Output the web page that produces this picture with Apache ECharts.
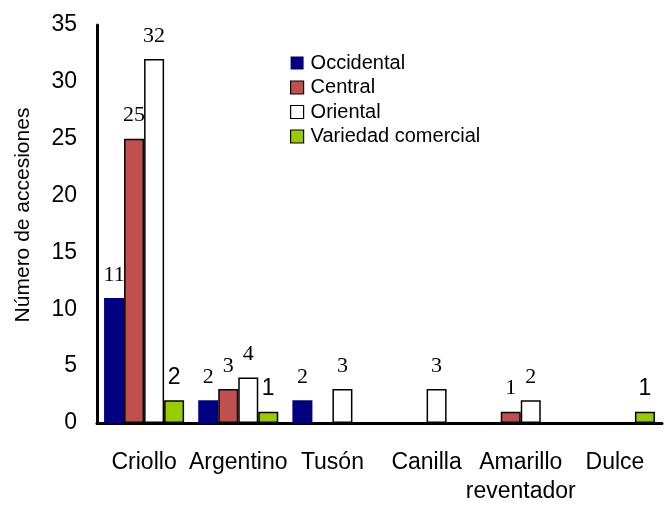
<!DOCTYPE html>
<html><head><meta charset="utf-8">
<script src="https://cdn.jsdelivr.net/npm/echarts@6/dist/echarts.min.js"></script>
<style>html,body{margin:0;padding:0;background:#fff}#c{width:665px;height:506px}</style>
</head><body><div id="c"></div>
<script>
var categories = ['Criollo', 'Argentino', 'Tusón', 'Canilla', 'Amarillo\nreventador', 'Dulce'];
var occidental = [11, 2, 2, 0, 0, 0];
var central = [25, 3, 0, 0, 1, 0];
var oriental = [32, 4, 3, 3, 2, 0];
var comercial = [2, 1, 0, 0, 0, 1];
var seriesNames = ['Occidental', 'Central', 'Oriental', 'Variedad comercial'];
var yTicks = [0, 5, 10, 15, 20, 25, 30, 35];

var colors = ['#000080', '#C0504D', '#FFFFFF', '#99CC00'];
var dataSets = [occidental, central, oriental, comercial];
var chart = echarts.init(document.getElementById('c'));
var series = dataSets.map(function (d, i) {
  var serif = i < 3;
  return {
    name: seriesNames[i], type: 'bar', data: d,
    barGap: '0%', barCategoryGap: '15%',
    itemStyle: { color: colors[i], borderColor: '#000', borderWidth: i === 0 ? 0 : 1.5 },
    label: {
      show: true, position: 'top', distance: serif ? 12 : 11,
      fontFamily: serif ? 'Liberation Serif' : 'Liberation Sans',
      fontSize: serif ? 22 : 23, color: '#000',
      formatter: function (p) { return p.value === 0 ? '' : String(p.value); }
    }
  };
});
chart.setOption({
  animation: false,
  backgroundColor: '#fff',
  grid: { left: 97, right: 3, top: 25, bottom: 77 },
  legend: {
    orient: 'vertical', left: 285, top: 48, itemWidth: 13, itemHeight: 13, itemGap: 4.5,
    icon: 'rect',
    textStyle: { fontFamily: 'Liberation Sans', fontSize: 20, color: '#000', padding: [0, 0, 0, 2] },
    data: seriesNames.map(function (n, i) {
      return { name: n, itemStyle: { color: colors[i], borderColor: '#000', borderWidth: i === 0 ? 0 : 1.2 } };
    })
  },
  xAxis: {
    type: 'category', data: categories,
    axisLine: { lineStyle: { color: '#000', width: 3 } },
    axisTick: { show: false },
    axisLabel: { color: '#000', fontFamily: 'Liberation Sans', fontSize: 23, margin: 25, lineHeight: 29, interval: 0 }
  },
  yAxis: {
    type: 'value', min: yTicks[0], max: yTicks[yTicks.length - 1], interval: 5,
    name: 'Número de accesiones', nameLocation: 'middle', nameGap: 63, nameRotate: 90,
    nameTextStyle: { color: '#000', fontFamily: 'Liberation Sans', fontSize: 21, padding: [0, 0, 0, 18] },
    axisLine: { show: true, lineStyle: { color: '#000', width: 3 } },
    axisTick: { show: false },
    splitLine: { show: false },
    axisLabel: { color: '#000', fontFamily: 'Liberation Sans', fontSize: 23, margin: 20 }
  },
  series: series
});
</script></body></html>
